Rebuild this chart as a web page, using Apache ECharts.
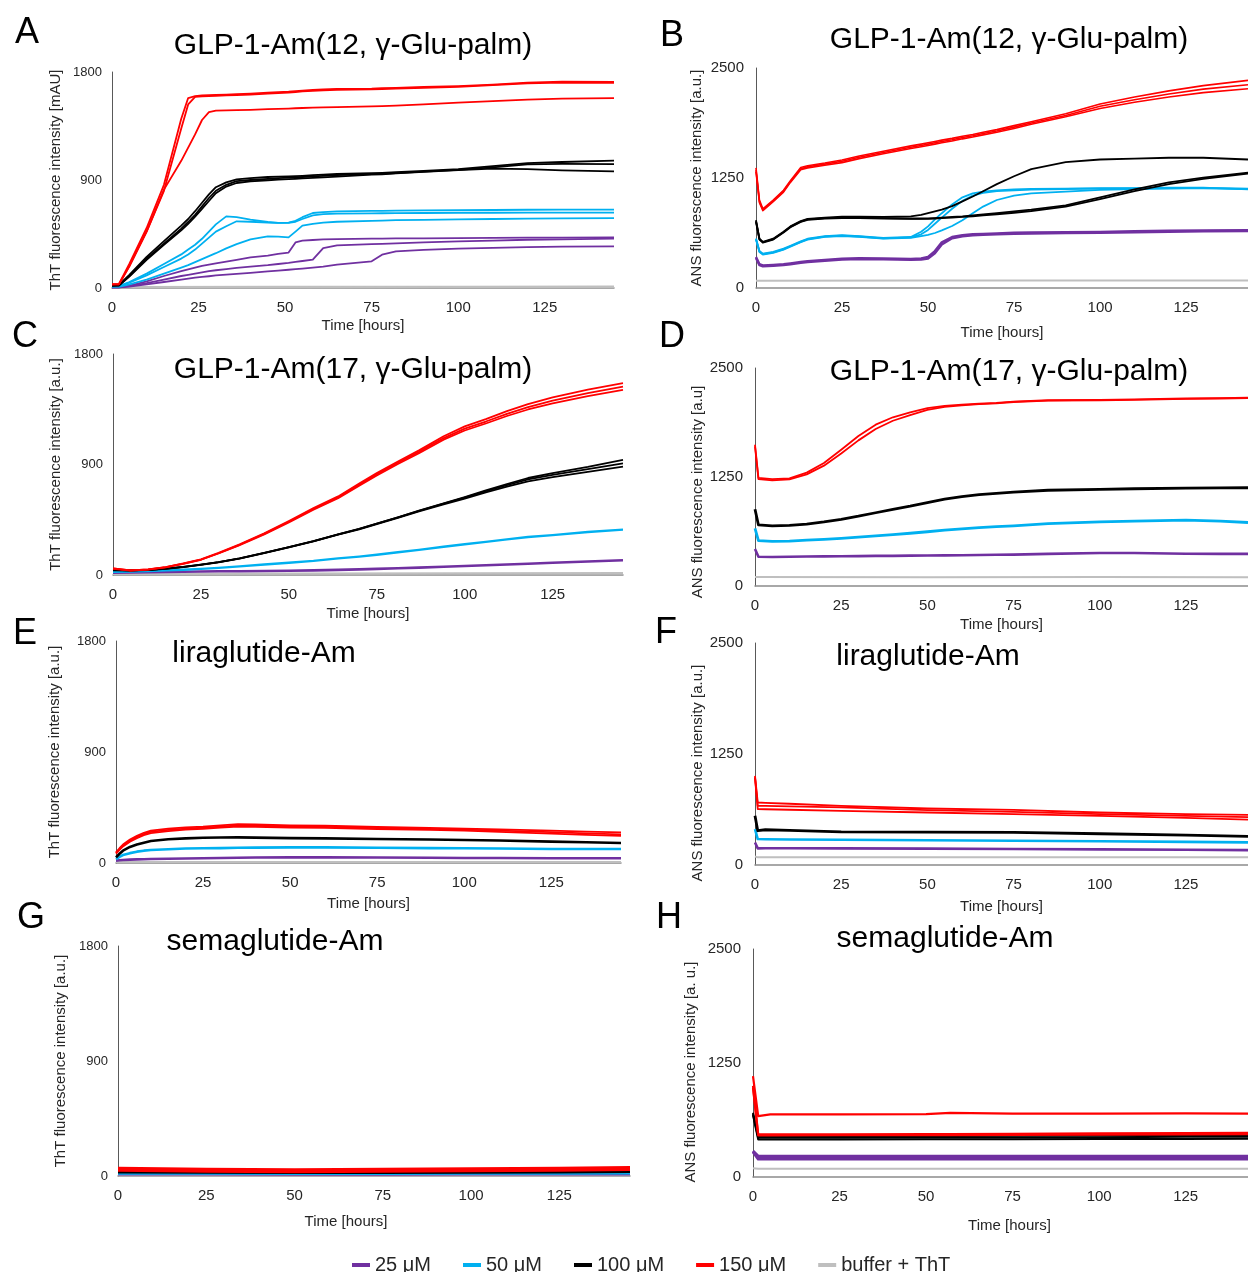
<!DOCTYPE html>
<html>
<head>
<meta charset="utf-8">
<title>ThT / ANS fluorescence kinetics</title>
<script src="https://cdn.jsdelivr.net/npm/echarts@6/dist/echarts.min.js"></script>
<style>
  html, body { margin: 0; padding: 0; background: #fff; }
  #chart { width: 1248px; height: 1272px; }
</style>
</head>
<body>
<div id="chart"></div>
<script>
// ---- legend / series names ----
const names = ['25 μM', '50 μM', '100 μM', '150 μM', 'buffer + ThT'];
const colors = ['#7030A0', '#00B0F0', '#000000', '#FF0000', '#BFBFBF'];

// ---- panel A : GLP-1-Am(12), ThT ----
const timeA = [0, 2, 5, 10, 15, 20, 22, 24, 26, 28, 30, 33, 36, 40, 45, 48, 51, 53, 55, 58, 61, 65, 75, 78, 82, 90, 100, 110, 120, 130, 145];
const aRed = [
  [30, 35, 200, 500, 860, 1410, 1583, 1598, 1605, 1608, 1610, 1612, 1615, 1620, 1628, 1632, 1636, 1640, 1645, 1650, 1655, 1660, 1662, 1665, 1668, 1675, 1682, 1695, 1712, 1720, 1717],
  [30, 30, 180, 470, 810, 1330, 1530, 1592, 1598, 1600, 1602, 1605, 1608, 1612, 1620, 1625, 1628, 1632, 1638, 1642, 1648, 1652, 1655, 1658, 1662, 1668, 1676, 1690, 1705, 1712, 1710],
  [30, 30, 180, 470, 820, 1060, 1170, 1280, 1400, 1465, 1478, 1480, 1482, 1485, 1490, 1492, 1495, 1498, 1500, 1503, 1506, 1508, 1514, 1516, 1520, 1530, 1545, 1558, 1570, 1578, 1583]
];
const aBlack = [
  [20, 25, 110, 260, 390, 520, 575, 640, 710, 780, 840, 880, 905, 915, 925, 928, 930, 932, 935, 940, 945, 950, 958, 960, 965, 975, 990, 1015, 1040, 1050, 1061],
  [20, 22, 100, 245, 370, 495, 550, 610, 680, 750, 810, 860, 890, 900, 910, 915, 920, 922, 925, 930, 935, 940, 950, 952, 958, 970, 985, 1005, 1030, 1035, 1033],
  [20, 20, 95, 235, 360, 480, 535, 595, 660, 725, 790, 845, 875, 888, 898, 903, 908, 910, 913, 918, 922, 928, 945, 948, 955, 968, 982, 995, 990, 980, 972]
];
const aBlue = [
  [15, 15, 50, 120, 200, 280, 320, 360, 410, 470, 530, 597, 590, 570, 550, 542, 545, 560, 590, 625, 633, 638, 642, 643, 645, 647, 648, 650, 652, 653, 653],
  [15, 15, 45, 105, 175, 245, 280, 320, 370, 420, 470, 515, 556, 552, 545, 542, 542, 552, 575, 605, 615, 620, 622, 623, 624, 625, 626, 627, 628, 628, 628],
  [10, 10, 30, 70, 120, 170, 190, 215, 240, 265, 290, 330, 365, 405, 430, 428, 422, 470, 520, 535, 545, 552, 560, 562, 565, 568, 572, 575, 578, 580, 583]
];
const aPurple = [
  [5, 5, 20, 55, 100, 140, 155, 170, 185, 195, 205, 220, 235, 255, 270, 285, 295, 380, 395, 400, 405, 408, 411, 412, 413, 414, 415, 417, 419, 420, 422],
  [5, 5, 15, 40, 70, 100, 110, 120, 130, 140, 148, 158, 168, 178, 190, 200, 210, 218, 225, 236, 333, 355, 365, 368, 372, 380, 388, 395, 402, 406, 411],
  [5, 5, 12, 30, 50, 70, 78, 86, 92, 98, 105, 112, 118, 126, 139, 145, 152, 157, 162, 170, 178, 195, 222, 278, 305, 318, 328, 335, 340, 344, 347]
];
const timeGreyA = [0, 50, 100, 145];
const aGrey = [[10, 12, 12, 14], [4, 5, 6, 6]];

// ---- panel B : GLP-1-Am(12), ANS ----
const timeB = [0, 1, 2, 5, 8, 10, 13, 15, 20, 25, 30, 37, 45, 48, 50, 52, 54, 57, 60, 63, 66, 70, 75, 80, 90, 100, 110, 120, 130, 143];
const bRed = [
  [1365, 1000, 900, 1000, 1110, 1220, 1370, 1390, 1420, 1455, 1500, 1555, 1615, 1635, 1650, 1665, 1680, 1700, 1725, 1745, 1770, 1800, 1845, 1890, 1980, 2090, 2170, 2240, 2300, 2360],
  [1340, 980, 890, 990, 1100, 1210, 1355, 1378, 1408, 1440, 1485, 1540, 1600, 1620, 1635, 1650, 1665, 1685, 1710, 1730, 1755, 1785, 1828, 1875, 1960, 2065, 2140, 2205, 2260, 2310],
  [1320, 970, 880, 980, 1090, 1200, 1345, 1365, 1395, 1425, 1470, 1525, 1585, 1605, 1620, 1635, 1650, 1670, 1695, 1715, 1740, 1770, 1812, 1860, 1945, 2040, 2110, 2170, 2220, 2265]
];
const bBlack = [
  [772, 560, 524, 560, 640, 700, 760, 785, 800, 810, 810, 808, 815, 830, 850, 870, 890, 930, 985, 1040, 1100, 1180, 1270, 1350, 1430, 1460, 1470, 1480, 1480, 1460],
  [760, 555, 520, 555, 635, 695, 755, 780, 795, 800, 800, 795, 790, 790, 791, 795, 800, 808, 815, 825, 835, 850, 870, 890, 940, 1030, 1120, 1200, 1255, 1310],
  [750, 550, 515, 550, 630, 690, 750, 775, 790, 795, 795, 790, 785, 785, 786, 790, 795, 800, 808, 815, 825, 838, 855, 875, 925, 1010, 1100, 1180, 1240, 1300]
];
const bBlue = [
  [562, 420, 390, 410, 447, 480, 530, 560, 590, 600, 590, 570, 580, 640, 700, 780, 850, 950, 1030, 1075, 1095, 1110, 1120, 1125, 1130, 1135, 1135, 1140, 1140, 1120],
  [555, 415, 385, 405, 440, 475, 525, 555, 585, 595, 585, 565, 575, 610, 660, 730, 800, 900, 990, 1050, 1080, 1100, 1110, 1118, 1125, 1130, 1132, 1135, 1135, 1125],
  [550, 410, 380, 400, 435, 470, 520, 550, 580, 590, 580, 560, 570, 590, 605, 625, 655, 705, 770, 850, 925, 1000, 1050, 1075, 1095, 1115, 1125, 1130, 1135, 1130]
];
const bPurple = [
  [352, 270, 256, 262, 270, 280, 295, 305, 320, 333, 338, 335, 330, 335, 352, 420, 520, 580, 600, 610, 615, 620, 627, 630, 634, 638, 645, 650, 655, 657],
  [340, 260, 246, 252, 260, 270, 285, 295, 310, 323, 328, 325, 320, 322, 335, 395, 495, 565, 588, 598, 604, 610, 616, 620, 624, 628, 634, 640, 645, 647]
];
const timeGreyB = [0, 50, 100, 143];
const bGrey = [[82, 85, 84, 86]];

// ---- panel C : GLP-1-Am(17), ThT ----
const timeC = [0, 5, 10, 15, 20, 25, 30, 36, 43, 50, 57, 64, 70, 75, 81, 87, 94, 100, 106, 112, 118, 125, 135, 145];
const cRed = [
  [54, 38, 45, 65, 95, 128, 180, 250, 340, 440, 545, 640, 745, 830, 925, 1015, 1130, 1210, 1270, 1335, 1392, 1447, 1510, 1563],
  [54, 38, 45, 64, 93, 126, 177, 246, 335, 434, 538, 632, 736, 820, 914, 1003, 1115, 1192, 1250, 1313, 1368, 1420, 1482, 1534],
  [50, 36, 43, 62, 91, 124, 175, 243, 331, 429, 532, 625, 728, 811, 904, 992, 1102, 1177, 1234, 1295, 1348, 1398, 1456, 1507]
];
const cBlack = [
  [41, 38, 42, 52, 66, 85, 105, 135, 180, 228, 275, 330, 375, 418, 470, 525, 584, 635, 690, 740, 790, 830, 880, 937],
  [41, 38, 42, 52, 66, 85, 105, 135, 180, 228, 275, 330, 375, 418, 469, 523, 581, 630, 683, 731, 778, 815, 862, 909],
  [38, 36, 40, 50, 64, 83, 103, 133, 178, 226, 273, 328, 372, 415, 465, 518, 575, 622, 673, 719, 763, 798, 840, 882]
];
const cBlue = [[27, 28, 32, 38, 43, 50, 58, 70, 85, 100, 115, 135, 150, 165, 185, 205, 230, 250, 270, 290, 310, 325, 350, 370]];
const cPurple = [[19, 20, 22, 24, 26, 28, 30, 31, 33, 35, 38, 42, 46, 50, 55, 60, 67, 73, 80, 86, 92, 100, 110, 120]];
const timeGreyC = [0, 50, 100, 145];
const cGrey = [[6, 8, 10, 10], [12, 14, 16, 18]];

// ---- panel D : GLP-1-Am(17), ANS ----
const timeD = [0, 1, 5, 10, 15, 20, 25, 30, 35, 40, 45, 50, 55, 60, 65, 70, 75, 85, 100, 110, 125, 135, 143];
const dRed = [
  [1620, 1240, 1225, 1235, 1300, 1410, 1563, 1720, 1850, 1935, 1990, 2040, 2065, 2080, 2090, 2100, 2115, 2130, 2135, 2140, 2150, 2155, 2160],
  [1600, 1225, 1212, 1222, 1280, 1380, 1520, 1670, 1800, 1895, 1960, 2020, 2055, 2072, 2085, 2095, 2110, 2125, 2130, 2135, 2145, 2150, 2155]
];
const dBlack = [[880, 700, 690, 695, 710, 735, 765, 800, 840, 880, 915, 956, 995, 1025, 1048, 1063, 1077, 1098, 1108, 1115, 1123, 1125, 1127]];
const dBlue = [[660, 520, 512, 515, 525, 535, 546, 560, 575, 590, 605, 622, 640, 655, 670, 680, 690, 715, 736, 745, 755, 745, 728]];
const dPurple = [[425, 335, 332, 335, 338, 340, 341, 343, 345, 346, 348, 349, 351, 353, 355, 358, 360, 368, 379, 378, 370, 368, 368]];
const timeGreyD = [0, 50, 100, 143];
const dGrey = [[102, 100, 102, 101]];

// ---- panel E : liraglutide-Am, ThT ----
const timeE = [0, 1, 2, 4, 6, 8, 10, 15, 20, 25, 30, 35, 40, 50, 60, 75, 90, 100, 110, 125, 135, 145];
const eRed = [
  [86, 120, 150, 190, 220, 245, 262, 278, 289, 295, 305, 316, 312, 305, 302, 292, 285, 278, 272, 262, 255, 248],
  [80, 112, 140, 180, 210, 235, 252, 268, 279, 286, 295, 305, 302, 296, 293, 283, 276, 270, 262, 250, 240, 232],
  [76, 106, 134, 172, 202, 226, 243, 259, 270, 277, 286, 296, 293, 288, 285, 275, 268, 262, 252, 238, 228, 220]
];
const eBlack = [[46, 75, 100, 130, 150, 165, 178, 192, 200, 205, 207, 208, 206, 202, 200, 194, 190, 186, 182, 173, 168, 162]];
const eBlue = [[32, 50, 65, 80, 92, 100, 106, 112, 117, 119, 121, 124, 125, 127, 127, 124, 121, 119, 117, 113, 113, 113]];
const ePurple = [[19, 22, 24, 27, 29, 30, 32, 34, 36, 38, 40, 42, 44, 46, 46, 44, 42, 40, 40, 39, 38, 38]];
const timeGreyE = [0, 50, 100, 145];
const eGrey = [[8, 8, 9, 9]];

// ---- panel F : liraglutide-Am, ANS ----
const timeF = [0, 0.8, 3, 10, 25, 50, 75, 100, 125, 143];
const fRed = [
  [1003, 704, 700, 690, 666, 636, 621, 591, 573, 565],
  [990, 666, 665, 660, 648, 618, 599, 573, 554, 540],
  [980, 629, 628, 622, 610, 591, 573, 554, 530, 510]
];
const fBlack = [[554, 386, 397, 390, 374, 370, 367, 352, 337, 322]];
const fBlue = [[404, 292, 290, 288, 284, 278, 273, 268, 260, 255]];
const fPurple = [[254, 187, 188, 188, 187, 184, 180, 176, 172, 168]];
const fGrey = [[95, 86, 86, 86, 86, 88, 88, 86, 86, 86]];

// ---- panel G : semaglutide-Am, ThT ----
const timeG = [0, 25, 50, 75, 100, 125, 145];
const gRed = [[52, 45, 42, 45, 48, 52, 58]];
const gBlack = [[32, 30, 28, 28, 30, 32, 35]];
const gBlue = [[22, 22, 20, 20, 22, 22, 24]];
const gPurple = [[15, 15, 14, 14, 15, 15, 16]];
const gGrey = [[6, 6, 6, 6, 6, 6, 6]];

// ---- panel H : semaglutide-Am, ANS ----
const timeH = [0, 1.5, 5, 25, 50, 57, 75, 100, 125, 143];
const hRed = [
  [1106, 668, 686, 686, 690, 704, 694, 694, 697, 694],
  [1000, 467, 467, 467, 470, 470, 474, 478, 482, 485],
  [980, 455, 455, 458, 460, 460, 462, 465, 468, 470]
];
const hBlack = [
  [704, 449, 449, 449, 450, 450, 452, 454, 455, 456],
  [690, 430, 430, 430, 432, 432, 434, 436, 440, 442],
  [680, 412, 412, 412, 413, 413, 415, 416, 418, 420]
];
const hPurple = [
  [285, 230, 228, 228, 228, 228, 228, 228, 228, 228],
  [280, 212, 212, 212, 212, 212, 212, 212, 212, 212],
  [275, 195, 195, 196, 196, 196, 196, 196, 196, 196]
];
const hGrey = [[95, 91, 90, 91, 90, 91, 90, 91, 90, 91]];

const yTicksThT = [0, 900, 1800];
const yTicksANS = [0, 1250, 2500];

// groups: [concentration index, time, replicate arrays, line width]
function groups(list) {
  const out = [];
  list.forEach(([ci, t, reps, w]) => reps.forEach(v => out.push({ ci, t, v, w })));
  return out;
}

const FONT = "'Liberation Sans', Arial, sans-serif";

const panels = [
  { letter: 'A', lx: 27, ly: 33, title: 'GLP-1-Am(12, γ-Glu-palm)', tx: 353, ty: 46,
    grid: [112, 72, 502, 216], xMax: 145, ticks: yTicksThT, yName: 'ThT fluorescence intensity [mAU]', yGap: 49, yShift: 0, xGap: 30, xShift: 0, ySize: 13,
    lines: groups([[4, timeGreyA, aGrey, 1.5], [0, timeA, aPurple, 1.8], [1, timeA, aBlue, 1.8], [2, timeA, aBlack, 1.8], [3, timeA, aRed, 1.8]]) },
  { letter: 'B', lx: 672, ly: 36, title: 'GLP-1-Am(12, γ-Glu-palm)', tx: 1009, ty: 40,
    grid: [756, 68, 494, 220], xMax: 143, ticks: yTicksANS, yName: 'ANS fluorescence intensity [a.u.]', yGap: 52, yShift: 0, xGap: 37, xShift: 0, ySize: 15,
    lines: groups([[4, timeGreyB, bGrey, 2], [0, timeB, bPurple, 2.4], [1, timeB, bBlue, 1.8], [2, timeB, bBlack, 1.8], [3, timeB, bRed, 1.6]]) },
  { letter: 'C', lx: 25, ly: 337, title: 'GLP-1-Am(17, γ-Glu-palm)', tx: 353, ty: 370,
    grid: [113, 354, 510, 221], xMax: 145, ticks: yTicksThT, yName: 'ThT fluorescence intensity [a.u.]', yGap: 50, yShift: 0, xGap: 31, xShift: 0, ySize: 13,
    lines: groups([[4, timeGreyC, cGrey, 1.5], [0, timeC, cPurple, 2.6], [1, timeC, cBlue, 2.4], [2, timeC, cBlack, 1.8], [3, timeC, cRed, 1.8]]) },
  { letter: 'D', lx: 672, ly: 337, title: 'GLP-1-Am(17, γ-Glu-palm)', tx: 1009, ty: 372,
    grid: [755, 368, 495, 218], xMax: 143, ticks: yTicksANS, yName: 'ANS fluorescence intensity [a.u]', yGap: 50, yShift: 30, xGap: 31, xShift: 0, ySize: 15,
    lines: groups([[4, timeGreyD, dGrey, 2], [0, timeD, dPurple, 2.6], [1, timeD, dBlue, 2.8], [2, timeD, dBlack, 2.8], [3, timeD, dRed, 1.8]]) },
  { letter: 'E', lx: 25, ly: 634, title: 'liraglutide-Am', tx: 264, ty: 654,
    grid: [116, 641, 505, 222], xMax: 145, ticks: yTicksThT, yName: 'ThT fluorescence intensity [a.u.]', yGap: 54, yShift: 0, xGap: 33, xShift: 0, ySize: 13,
    lines: groups([[4, timeGreyE, eGrey, 2], [0, timeE, ePurple, 2.6], [1, timeE, eBlue, 2.6], [2, timeE, eBlack, 2.6], [3, timeE, eRed, 1.8]]) },
  { letter: 'F', lx: 666, ly: 633, title: 'liraglutide-Am', tx: 928, ty: 657,
    grid: [755, 643, 495, 222], xMax: 143, ticks: yTicksANS, yName: 'ANS fluorescence intensity [a.u.]', yGap: 50, yShift: 38, xGap: 34, xShift: 0, ySize: 15,
    lines: groups([[4, timeF, fGrey, 2], [0, timeF, fPurple, 2.6], [1, timeF, fBlue, 2.6], [2, timeF, fBlack, 2.8], [3, timeF, fRed, 1.8]]) },
  { letter: 'G', lx: 31, ly: 918, title: 'semaglutide-Am', tx: 275, ty: 942,
    grid: [118, 946, 512, 230], xMax: 145, ticks: yTicksThT, yName: 'ThT fluorescence intensity [a.u.]', yGap: 50, yShift: 0, xGap: 38, xShift: -56, ySize: 13,
    lines: groups([[4, timeG, gGrey, 2], [0, timeG, gPurple, 3], [1, timeG, gBlue, 3], [2, timeG, gBlack, 3], [3, timeG, gRed, 5]]) },
  { letter: 'H', lx: 669, ly: 918, title: 'semaglutide-Am', tx: 945, ty: 939,
    grid: [753, 949, 495, 228], xMax: 143, ticks: yTicksANS, yName: 'ANS fluorescence intensity [a. u.]', yGap: 55, yShift: 18, xGap: 41, xShift: 18, ySize: 15,
    lines: groups([[4, timeH, hGrey, 2], [0, timeH, hPurple, 2.8], [2, timeH, hBlack, 2], [3, timeH, hRed, 2.2]]) }
];

const grid = [], xAxis = [], yAxis = [], series = [], graphic = [];

panels.forEach((p, i) => {
  grid.push({ left: p.grid[0], top: p.grid[1], width: p.grid[2], height: p.grid[3] });
  xAxis.push({
    type: 'value', gridIndex: i, min: 0, max: p.xMax, interval: 25,
    name: 'Time [hours]', nameLocation: 'middle', nameGap: p.xGap,
    nameTextStyle: { fontFamily: FONT, fontSize: 15, color: '#262626',
      padding: p.xShift < 0 ? [0, -p.xShift, 0, 0] : [0, 0, 0, p.xShift] },
    axisLine: { show: true, onZero: false, lineStyle: { color: '#8c8c8c', width: 1.5 } },
    axisTick: { show: false }, splitLine: { show: false },
    axisLabel: { fontFamily: FONT, fontSize: 15, color: '#262626', margin: 12, showMaxLabel: false,
      formatter: v => (v % 25 === 0 ? String(v) : '') }
  });
  yAxis.push({
    type: 'value', gridIndex: i, min: p.ticks[0], max: p.ticks[2], interval: p.ticks[1],
    name: p.yName, nameLocation: 'middle', nameGap: p.yGap, nameRotate: 90,
    nameTextStyle: { fontFamily: FONT, fontSize: 15, color: '#262626', padding: [0, p.yShift, 0, 0] },
    axisLine: { show: true, lineStyle: { color: '#595959', width: 1 } },
    axisTick: { show: false }, splitLine: { show: false },
    axisLabel: { fontFamily: FONT, fontSize: p.ySize, color: '#262626', margin: p.ySize > 14 ? 12 : 10,
      formatter: v => String(v) }
  });
  p.lines.forEach(l => {
    series.push({
      type: 'line', name: names[l.ci], xAxisIndex: i, yAxisIndex: i,
      data: l.t.map((t, k) => [t, l.v[k]]),
      showSymbol: false, symbol: 'none', smooth: false,
      color: colors[l.ci], itemStyle: { color: colors[l.ci] },
      lineStyle: { color: colors[l.ci], width: l.w, join: 'round' },
      silent: true, animation: false, z: 2
    });
  });
  graphic.push({ type: 'text', x: p.lx, y: p.ly, silent: true,
    style: { text: p.letter, font: '36px ' + FONT, fill: '#000', align: 'center', verticalAlign: 'middle',
      textAlign: 'center', textVerticalAlign: 'middle' } });
  graphic.push({ type: 'text', x: p.tx, y: p.ty, silent: true,
    style: { text: p.title, font: '30px ' + FONT, fill: '#000', align: 'center', verticalAlign: 'middle',
      textAlign: 'center', textVerticalAlign: 'middle' } });
});

const chart = echarts.init(document.getElementById('chart'), null, { renderer: 'canvas' });
chart.setOption({
  backgroundColor: '#ffffff',
  animation: false,
  grid, xAxis, yAxis, series, graphic,
  legend: {
    data: names, left: 347, top: 1250, orient: 'horizontal',
    icon: 'rect', itemWidth: 18, itemHeight: 4, itemGap: 32, selectedMode: false,
    textStyle: { fontFamily: FONT, fontSize: 20, color: '#262626' }
  }
});
</script>
</body>
</html>
